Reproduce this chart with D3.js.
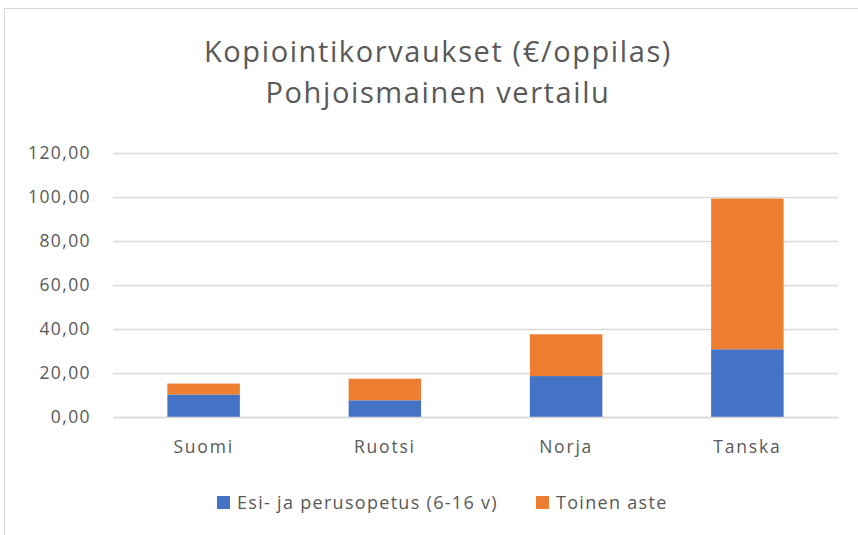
<!DOCTYPE html>
<html>
<head>
<meta charset="utf-8">
<script src="https://cdn.jsdelivr.net/npm/d3@7"></script>
<style>
  body { margin: 0; background: #fff; }
  svg text { font-family: "Open Sans", sans-serif; fill: #595959; }
</style>
</head>
<body>
<div id="chart"></div>
<script>
// Data
const categories = ['Suomi', 'Ruotsi', 'Norja', 'Tanska'];
const esiJaPeruso = [10.2, 7.6, 18.6, 30.8];
const toinenAste = [5.0, 9.8, 19.0, 68.5];
const seriesNames = ['Esi- ja perusopetus (6-16 v)', 'Toinen aste'];
const seriesColors = ['#4472C4', '#ED7D31'];
const yTicks = [0, 20, 40, 60, 80, 100, 120];
const titleLines = ['Kopiointikorvaukset (€/oppilas)', 'Pohjoismainen vertailu'];

const W = 858, H = 535;
const margin = { top: 153, right: 20, bottom: 118, left: 113 };
const width = W - margin.left - margin.right;
const height = H - margin.top - margin.bottom;

const svg = d3.select('#chart')
  .append('svg')
  .attr('width', W)
  .attr('height', H);

// chart frame
svg.append('rect')
  .attr('x', 4.5).attr('y', 8.5)
  .attr('width', W).attr('height', H)
  .attr('fill', 'none')
  .attr('stroke', '#d9d9d9');

// title
svg.append('text')
  .attr('text-anchor', 'middle')
  .attr('font-size', 29)
  .attr('letter-spacing', 1.6)
  .selectAll('tspan')
  .data(titleLines)
  .join('tspan')
  .attr('x', 438)
  .attr('y', (d, i) => 62 + i * 41)
  .text(d => d);

const g = svg.append('g')
  .attr('transform', `translate(${margin.left}, ${margin.top})`);

// scales
const x = d3.scaleBand().domain(categories).range([0, width]).paddingInner(0.6).paddingOuter(0.3);
const y = d3.scaleLinear().domain([0, 120]).range([height, 0]);

// gridlines + y labels
const yAxis = d3.axisLeft(y)
  .tickValues(yTicks)
  .tickSize(-width)
  .tickPadding(22)
  .tickFormat(d => d3.format('.2f')(d).replace('.', ','));

g.append('g')
  .call(yAxis)
  .call(a => a.select('.domain').remove())
  .call(a => a.selectAll('line').attr('stroke', '#d9d9d9').attr('stroke-width', 1.3))
  .call(a => a.selectAll('text').attr('font-size', 17.5).attr('letter-spacing', 1.4).attr('fill', '#595959'));

// stacked data
const rows = categories.map((c, i) => ({ cat: c, a: esiJaPeruso[i], b: toinenAste[i] }));
const stack = d3.stack().keys(['a', 'b'])(rows);

g.selectAll('.series')
  .data(stack)
  .join('g')
  .attr('fill', (d, i) => seriesColors[i])
  .selectAll('rect')
  .data(d => d)
  .join('rect')
  .attr('x', d => x(d.data.cat))
  .attr('y', d => y(d[1]))
  .attr('width', x.bandwidth())
  .attr('height', d => y(d[0]) - y(d[1]));

// x axis
const xAxis = d3.axisBottom(x).tickSize(0).tickPadding(24);
g.append('g')
  .attr('transform', `translate(0, ${height})`)
  .call(xAxis)
  .call(a => a.select('.domain').attr('stroke', '#d9d9d9').attr('stroke-width', 1.3))
  .call(a => a.selectAll('text').attr('font-size', 17.5).attr('letter-spacing', 1.8).attr('fill', '#595959'));

// legend
const legendX = [217, 536];
const legend = svg.append('g');
seriesNames.forEach((name, i) => {
  legend.append('rect')
    .attr('x', legendX[i]).attr('y', 496)
    .attr('width', 13).attr('height', 13)
    .attr('fill', seriesColors[i]);
  legend.append('text')
    .attr('x', legendX[i] + 20).attr('y', 509)
    .attr('font-size', 18)
    .attr('letter-spacing', 1.3)
    .text(name);
});
</script>
</body>
</html>
